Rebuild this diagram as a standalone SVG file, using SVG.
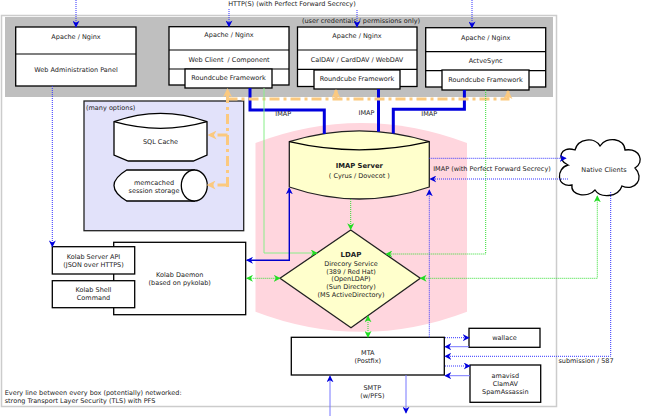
<svg xmlns="http://www.w3.org/2000/svg" width="646" height="416" viewBox="0 0 646 416">
<defs>
<style>
text{font-family:"DejaVu Sans","Liberation Sans",sans-serif;font-size:6.5px;fill:#222;}
.c{text-anchor:middle;}
.b{font-weight:bold;}
.box{fill:#fff;stroke:#000;stroke-width:1.3;}
.div{stroke:#000;stroke-width:1.2;fill:none;}
.bd{fill:none;stroke:#3333ff;stroke-width:1;stroke-dasharray:1,1;}
.bl{fill:none;stroke:#7777ff;stroke-width:1;}
.bs{fill:none;stroke:#0000cc;stroke-width:1.4;}
.imap{fill:none;stroke:#0000dd;stroke-width:3;}
.gs{fill:none;stroke:#88ee88;stroke-width:1;}
.gd{fill:none;stroke:#33dd33;stroke-width:1;stroke-dasharray:1,1;}
.or{fill:none;stroke:#fbc97f;stroke-width:3;stroke-dasharray:10,4,3,4;}
</style>
<marker id="ab" viewBox="0 0 10 10" refX="9" refY="5" markerWidth="7" markerHeight="7" markerUnits="userSpaceOnUse" orient="auto-start-reverse"><path d="M0,0 L10,5 L0,10 L3,5 Z" fill="#0000dd"/></marker>
<marker id="ag" viewBox="0 0 10 10" refX="9" refY="5" markerWidth="7" markerHeight="7" markerUnits="userSpaceOnUse" orient="auto-start-reverse"><path d="M0,0 L10,5 L0,10 L3,5 Z" fill="#22dd22"/></marker>
<marker id="ao" viewBox="0 0 10 10" refX="9" refY="5" markerWidth="9" markerHeight="9" markerUnits="userSpaceOnUse" orient="auto"><path d="M0,0 L10,5 L0,10 L3,5 Z" fill="#fbc97f"/></marker>
</defs>
<rect x="0" y="0" width="646" height="416" fill="#fff"/>
<g id="frame">
<rect x="1.5" y="15.5" width="555" height="391" fill="none" stroke="#cccccc" stroke-width="1.5"/>
<rect x="5" y="17" width="548" height="80" fill="#bfbfbf"/>
<text x="361" y="23.3" class="c">(user credentials / permissions only)</text>
<text x="292" y="6" class="c">HTTP(S) (with Perfect Forward Secrecy)</text>
</g>
<g id="pink-zone">
<path d="M255.5,143 Q361,103 467,143 V311.7 Q361,352 255.5,311.7 Z" fill="#ffd6de"/>
</g>
<g id="web-admin">
<rect class="box" x="15.7" y="27" width="120.3" height="59"/>
<line class="div" x1="15.7" y1="54" x2="136" y2="54"/>
<text x="76" y="39" class="c">Apache / Nginx</text>
<text x="76" y="72.3" class="c">Web Administration Panel</text>
</g>
<g id="web-client">
<rect class="box" x="169" y="26.7" width="120" height="58.3"/>
<line class="div" x1="169" y1="50" x2="289" y2="50"/>
<line class="div" x1="169" y1="69" x2="289" y2="69"/>
<text x="229" y="37.3" class="c">Apache / Nginx</text>
<text x="229" y="61.6" class="c" xml:space="preserve">Web Client  / Component</text>
<rect class="box" x="185" y="69" width="87" height="19"/>
<text x="228.5" y="80.3" class="c">Roundcube Framework</text>
</g>
<g id="dav">
<rect class="box" x="297.5" y="27" width="119.5" height="59.5"/>
<line class="div" x1="297.5" y1="50" x2="417" y2="50"/>
<line class="div" x1="297.5" y1="69.3" x2="417" y2="69.3"/>
<text x="357" y="38.3" class="c">Apache / Nginx</text>
<text x="357" y="62.3" class="c">CalDAV / CardDAV / WebDAV</text>
<rect class="box" x="314" y="70" width="86" height="19"/>
<text x="357" y="81.3" class="c">Roundcube Framework</text>
</g>
<g id="activesync">
<rect class="box" x="425.7" y="27.7" width="120" height="59.3"/>
<line class="div" x1="425.7" y1="51.7" x2="545.7" y2="51.7"/>
<line class="div" x1="425.7" y1="70.7" x2="545.7" y2="70.7"/>
<text x="485.7" y="39.6" class="c">Apache / Nginx</text>
<text x="485.7" y="63.3" class="c">ActveSync</text>
<rect class="box" x="442" y="70" width="87" height="20"/>
<text x="485.5" y="82.3" class="c">Roundcube Framework</text>
</g>
<g id="many-options">
<rect x="84" y="101" width="159.7" height="129.7" fill="#e2e2fa" stroke="#222" stroke-width="1.3"/>
<text x="86" y="110">(many options)</text>
</g>
<g id="sql-cache">
<path class="box" d="M114,121.7 Q160.5,104.9 207,121.7 V155 L193.3,161 H128.3 L114,155 Z"/>
<path class="div" d="M114,121.7 Q160.5,134.9 207,121.7"/>
<text x="160.5" y="144" class="c">SQL Cache</text>
</g>
<g id="memcached">
<path class="box" d="M126.7,170 H194.3 V201 H126.7 Q101.3,185.5 126.7,170 Z"/>
<ellipse class="box" cx="194.3" cy="185.5" rx="13" ry="15.5"/>
<text x="154" y="184.6" class="c">memcached</text>
<text x="154" y="192.6" class="c">session storage</text>
</g>
<g id="imap-server">
<path d="M289.3,141.7 Q359.3,120 429.3,141.7 V187 Q359.3,211 289.3,187 Z" fill="#ffffcc" stroke="#222" stroke-width="1.3"/>
<path class="div" d="M289.3,141.7 Q359.3,158 429.3,141.7"/>
<text x="359.3" y="167.7" class="c b" style="font-size:6.8px">IMAP Server</text>
<text x="359.3" y="177.6" class="c">( Cyrus / Dovecot )</text>
</g>
<g id="ldap">
<path d="M350.7,230 L420.3,278.3 L351,327.7 L280,278.3 Z" fill="#ffffcc" stroke="#222" stroke-width="1.3"/>
<text x="351" y="256.5" class="c b" style="font-size:7px">LDAP</text>
<text x="351" y="265.6" class="c">Direcory Service</text>
<text x="351" y="273.6" class="c">(389 / Red Hat)</text>
<text x="351" y="281.3" class="c">(OpenLDAP)</text>
<text x="351" y="289.3" class="c">(Sun Directory)</text>
<text x="351" y="297" class="c">(MS ActiveDirectory)</text>
</g>
<g id="kolab-daemon">
<rect class="box" x="113.7" y="242.3" width="132" height="72.4"/>
<text x="179.7" y="276.6" class="c">Kolab Daemon</text>
<text x="179.7" y="284.6" class="c">(based on pykolab)</text>
</g>
<g id="kolab-api">
<rect class="box" x="52.3" y="246.7" width="82.4" height="27.3"/>
<text x="93.5" y="258.6" class="c">Kolab Server API</text>
<text x="93.5" y="266.6" class="c">(JSON over HTTPS)</text>
</g>
<g id="kolab-shell">
<rect class="box" x="52.3" y="280.7" width="82.4" height="27"/>
<text x="93.5" y="292.3" class="c">Kolab Shell</text>
<text x="93.5" y="300.3" class="c">Command</text>
</g>
<g id="native-clients">
<path class="box" d="M568,165 C556,160 560,145 575,150 C578,138 595,137 600,146 C606,136 625,138 625,150 C640,148 645,162 635,168 C645,178 635,192 622,186 C618,198 600,198 595,190 C588,198 570,196 572,185 C556,188 556,168 568,165 Z"/>
<text x="604" y="172.3" class="c">Native Clients</text>
</g>
<g id="mta">
<rect class="box" x="291.3" y="337.3" width="153" height="37.7"/>
<text x="367.8" y="354.6" class="c">MTA</text>
<text x="367.8" y="362.6" class="c">(Postfix)</text>
</g>
<g id="wallace">
<rect class="box" x="469" y="328.3" width="71" height="19"/>
<text x="504.5" y="340" class="c">wallace</text>
</g>
<g id="amavisd">
<rect class="box" x="470" y="365" width="70.7" height="37.3"/>
<text x="505.3" y="378" class="c">amavisd</text>
<text x="505.3" y="386" class="c">ClamAV</text>
<text x="505.3" y="394" class="c">SpamAssassin</text>
</g>
<g id="connectors">
<path class="bd" d="M76,0 V27" marker-end="url(#ab)"/>
<path class="bd" d="M229,9 V26.7" marker-end="url(#ab)"/>
<path class="bd" d="M357,10 V27" marker-end="url(#ab)"/>
<path class="bd" d="M472,0 V27.7" marker-end="url(#ab)"/>
<path class="bd" d="M52.3,86 V246.7" marker-end="url(#ab)"/>
<path class="imap" d="M250,88 V110 H324.3 V134"/>
<path class="imap" d="M378.5,89 V131.7"/>
<path class="imap" d="M464.4,90 V109.3 H393.3 V133.4"/>
<path class="or" d="M227.5,187 V89" marker-end="url(#ao)"/>
<path class="or" d="M227.5,99 H508 V91" marker-end="url(#ao)"/>
<path class="or" d="M336,99 V90" marker-end="url(#ao)"/>
<path class="or" d="M227.5,135 H208.5" marker-end="url(#ao)"/>
<path class="or" d="M227.5,185 H207.5" marker-end="url(#ao)"/>
<path class="gs" d="M264,88 V253 H317" marker-end="url(#ag)"/>
<path class="gd" d="M485.7,90 V254 H386" marker-end="url(#ag)"/>
<path class="gd" d="M350.7,199 V229.5" marker-end="url(#ag)"/>
<path class="gd" d="M246.7,278.3 H280" marker-start="url(#ag)" marker-end="url(#ag)"/>
<path class="gd" d="M420.3,278.3 H597.3 V196" marker-start="url(#ag)" marker-end="url(#ag)"/>
<path class="gd" d="M368,316 V337.3" marker-start="url(#ag)" marker-end="url(#ag)"/>
<path class="bs" d="M289.3,188 V260.3 H246.7" marker-start="url(#ab)" marker-end="url(#ab)"/>
<path class="bd" d="M429.3,337.3 V190" marker-end="url(#ab)"/>
<path class="bd" d="M429.3,158.3 H566" marker-end="url(#ab)"/>
<path class="bd" d="M568,179 H430" marker-end="url(#ab)"/>
<path class="bd" d="M610.7,192 V356.3 H445" marker-end="url(#ab)"/>
<path class="bd" d="M445,337.7 H469" marker-end="url(#ab)"/>
<path class="bl" d="M469,346.7 H445" marker-end="url(#ab)"/>
<path class="bd" d="M445,366 H470" marker-end="url(#ab)"/>
<path class="bl" d="M470,375.7 H445" marker-end="url(#ab)"/>
<path class="bl" d="M330,416 V376" marker-end="url(#ab)"/>
<path class="bl" d="M406,375 V413" marker-end="url(#ab)"/>
</g>
<g id="labels">
<text x="283.3" y="115.6" class="c">IMAP</text>
<text x="366.5" y="114.6" class="c">IMAP</text>
<text x="429.3" y="115.6" class="c">IMAP</text>
<text x="492" y="170.6" class="c">IMAP (with Perfect Forward Secrecy)</text>
<text x="586" y="363.3" class="c">submission / 587</text>
<text x="372.3" y="390" class="c">SMTP</text>
<text x="372.3" y="398" class="c">(w/PFS)</text>
<text x="4.7" y="394.6">Every line between every box (potentially) networked:</text>
<text x="4.7" y="402.6">strong Transport Layer Security (TLS) with PFS</text>
</g>
</svg>
